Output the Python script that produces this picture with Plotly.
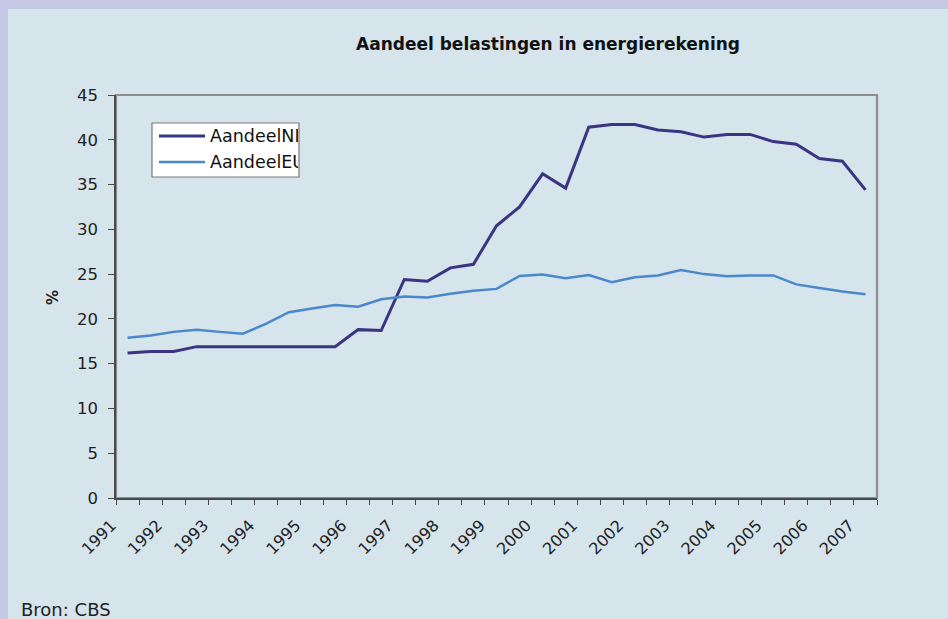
import plotly.graph_objects as go

# Half-year observations, 1991 H1 .. 2007 H1 (33 points)
years = [str(y) for y in range(1991, 2008)]
aandeel_nl = [16.2, 16.35, 16.35, 16.9, 16.9, 16.9, 16.9, 16.9, 16.9, 16.9,
              18.8, 18.7, 24.4, 24.2, 25.7, 26.1, 30.4, 32.5, 36.2, 34.6,
              41.4, 41.7, 41.7, 41.1, 40.9, 40.3, 40.6, 40.6, 39.8, 39.5,
              37.9, 37.6, 34.4]
aandeel_eu = [17.9, 18.15, 18.55, 18.8, 18.55, 18.35, 19.45, 20.75, 21.15, 21.55,
              21.35, 22.2, 22.5, 22.4, 22.8, 23.15, 23.35, 24.8, 24.95, 24.55,
              24.9, 24.1, 24.65, 24.85, 25.45, 25.0, 24.75, 24.85, 24.85, 23.85,
              23.45, 23.05, 22.75]
series_names = ["AandeelNL", "AandeelEU"]
colors = ["#3a3482", "#4a87cb"]

W, H = 948, 619
L, R, T, B = 116, 71, 95, 121
PW, PH = W - L - R, H - T - B


def px(x):
    return (x - L) / PW


def py(y):
    return (H - B - y) / PH


n = len(aandeel_nl)
xs = list(range(n))

fig = go.Figure()
fig.add_trace(go.Scatter(x=xs, y=aandeel_nl, mode="lines", name=series_names[0],
                         line=dict(color=colors[0], width=3), showlegend=False))
fig.add_trace(go.Scatter(x=xs, y=aandeel_eu, mode="lines", name=series_names[1],
                         line=dict(color=colors[1], width=2.5), showlegend=False))

label_pos = list(range(0, n, 2))
font_main = "DejaVu Sans, Verdana, sans-serif"

fig.update_xaxes(
    range=[-0.5, n - 0.5], showgrid=False, zeroline=False,
    showline=True, linecolor="#4a4a4a", linewidth=1.5,
    tickmode="array", tickvals=label_pos, ticktext=years,
    ticks="", tickangle=-45, ticklabelshift=-16, ticklabelstandoff=10,
    tickfont=dict(family=font_main, size=16, color="#222222"),
    minor=dict(tickmode="array", tickvals=[i - 0.5 for i in range(n + 1)],
               ticks="outside", ticklen=5, tickcolor="#4a4a4a", tickwidth=1.2),
)
fig.update_yaxes(
    range=[0, 45], dtick=5, tick0=0, showgrid=False, zeroline=False,
    showline=True, linecolor="#4a4a4a", linewidth=1.5,
    ticks="outside", ticklen=6, tickcolor="#4a4a4a", tickwidth=1.2,
    ticklabelstandoff=7,
    tickfont=dict(family=font_main, size=16.5, color="#1e1e1e"),
)

shapes = [
    # light-blue panel over lavender frame
    dict(type="rect", xref="paper", yref="paper", layer="below",
         x0=px(8), x1=px(W + 20), y0=py(H + 20), y1=py(9),
         fillcolor="#d6e4eb", line=dict(width=0)),
    # plot area border
    dict(type="rect", xref="paper", yref="paper", layer="below",
         x0=0, x1=1, y0=0, y1=1, line=dict(color="#8e8e8e", width=2.2)),
    # legend box
    dict(type="rect", xref="paper", yref="paper", layer="above",
         x0=px(152), x1=px(299), y0=py(177), y1=py(123),
         fillcolor="#ffffff", line=dict(color="#7a7a7a", width=1.2)),
    dict(type="line", xref="paper", yref="paper", layer="above",
         x0=px(159), x1=px(205), y0=py(136), y1=py(136),
         line=dict(color=colors[0], width=3)),
    dict(type="line", xref="paper", yref="paper", layer="above",
         x0=px(159), x1=px(205), y0=py(162), y1=py(162),
         line=dict(color=colors[1], width=2.5)),
]

annotations = [
    dict(text="<b>Aandeel belastingen in energierekening</b>", xref="paper", yref="paper",
         x=px(548), y=py(44), xanchor="center", yanchor="middle", showarrow=False,
         font=dict(family=font_main, size=17, color="#111111")),
    dict(text="<b>%</b>", xref="paper", yref="paper", x=px(53), y=py(297),
         xanchor="center", yanchor="middle", textangle=-90, showarrow=False,
         font=dict(family=font_main, size=15, color="#222222")),
    dict(text="Bron: CBS", xref="paper", yref="paper", x=px(19), y=py(609),
         xanchor="left", yanchor="middle", showarrow=False,
         font=dict(family=font_main, size=18, color="#222222")),
    dict(text=series_names[0], xref="paper", yref="paper", x=px(209), y=py(136),
         xanchor="left", yanchor="middle", showarrow=False, width=88, align="left",
         borderpad=0,
         font=dict(family=font_main, size=17.5, color="#111111")),
    dict(text=series_names[1], xref="paper", yref="paper", x=px(209), y=py(162),
         xanchor="left", yanchor="middle", showarrow=False, width=88, align="left",
         borderpad=0,
         font=dict(family=font_main, size=17.5, color="#111111")),
]

fig.update_layout(
    width=W, height=H, margin=dict(l=L, r=R, t=T, b=B),
    paper_bgcolor="#c6c9e6", plot_bgcolor="#d6e4eb",
    shapes=shapes, annotations=annotations, showlegend=False,
    font=dict(family=font_main),
)

fig.write_html(
    "out.html",
    config={"displayModeBar": False},
    post_script="document.body.style.margin='0';document.body.style.overflow='hidden';"
                "document.body.style.background='#c6c9e6';",
)
